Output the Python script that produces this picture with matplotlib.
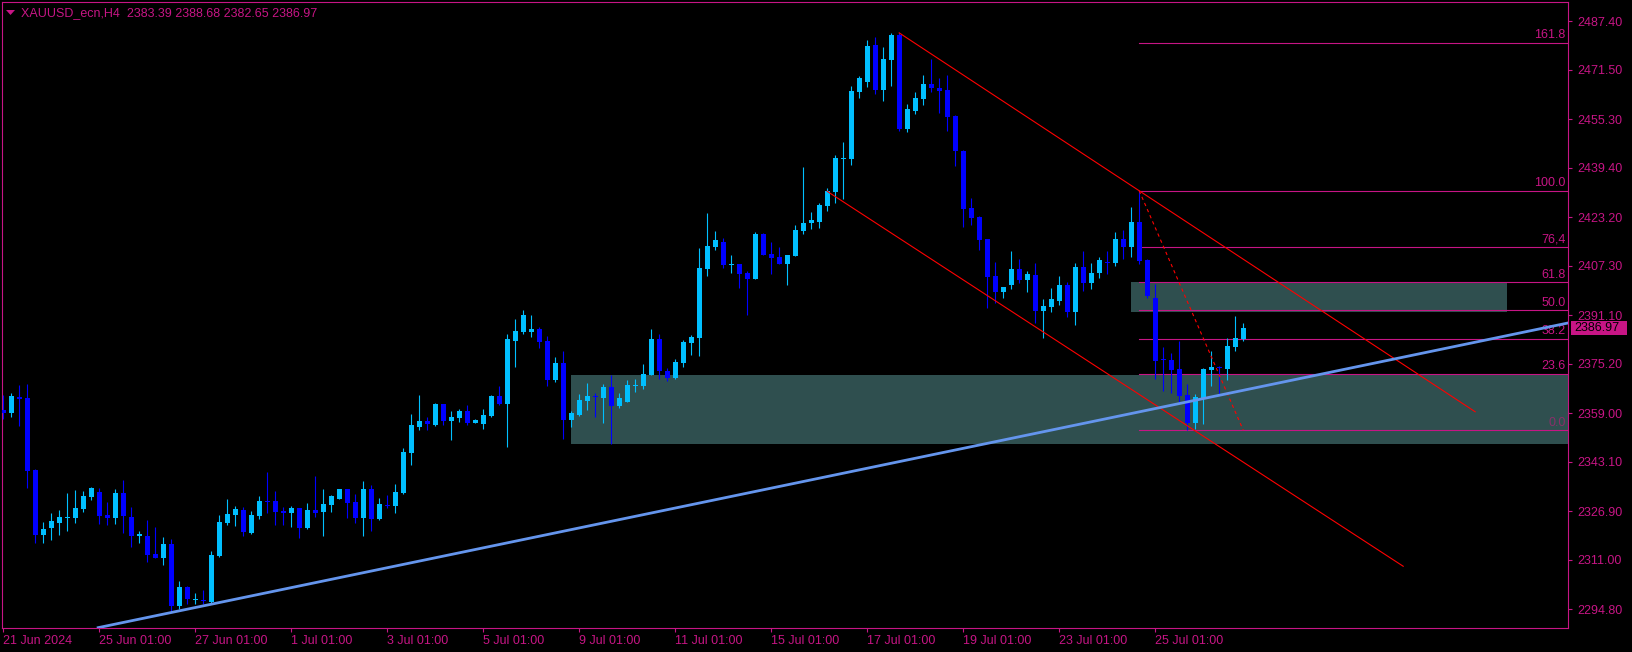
import matplotlib
matplotlib.use("Agg")
import matplotlib.pyplot as plt
from matplotlib.patches import Rectangle, Polygon
from matplotlib.transforms import blended_transform_factory

plt.rcParams['font.family'] = ['Liberation Sans', 'DejaVu Sans']
plt.rcParams['font.size'] = 9

# XAUUSD H4 candles (bar 0 = 21 Jun 2024)
opens = [2360.1, 2359.2, 2364.2, 2364.0, 2340.4, 2319.1, 2321.5, 2323.2, 2324.8, 2324.8,
         2327.7, 2331.7, 2333.2, 2325.7, 2324.8, 2332.9, 2325.0, 2318.9, 2318.8, 2312.9,
         2311.7, 2316.2, 2296.0, 2302.1, 2297.7, 2297.9, 2297.1, 2312.3, 2323.2, 2325.7,
         2327.3, 2319.9, 2325.5, 2330.2, 2330.2, 2327.1, 2326.5, 2327.9, 2321.5, 2327.3,
         2326.8, 2329.0, 2331.0, 2334.1, 2329.9, 2324.8, 2334.1, 2324.5, 2328.9, 2328.8,
         2332.9, 2346.0, 2354.6, 2356.5, 2355.2, 2362.1, 2356.6, 2357.6, 2359.8, 2355.9,
         2355.6, 2358.2, 2364.7, 2362.2, 2382.8, 2385.6, 2385.7, 2386.6, 2382.7, 2370.0,
         2375.5, 2356.9, 2358.4, 2363.0, 2364.6, 2364.1, 2367.6, 2361.5, 2362.8, 2368.1,
         2368.1, 2371.5, 2383.3, 2372.9, 2370.7, 2375.6, 2382.0, 2383.8, 2406.4, 2413.4,
         2415.1, 2407.7, 2407.9, 2404.9, 2403.0, 2417.7, 2411.2, 2410.2, 2407.9, 2410.5,
         2418.7, 2421.3, 2421.7, 2426.9, 2431.5, 2442.4, 2442.3, 2464.2, 2467.5, 2479.6,
         2464.9, 2474.7, 2483.0, 2452.1, 2458.0, 2462.0, 2466.9, 2465.6, 2464.9, 2456.4,
         2444.9, 2426.1, 2423.2, 2416.1, 2403.9, 2398.6, 2401.0, 2406.2, 2402.7, 2404.2,
         2392.5, 2393.8, 2395.8, 2401.0, 2392.3, 2406.9, 2401.8, 2404.9, 2408.5, 2408.1,
         2416.0, 2413.4, 2421.7, 2409.2, 2396.7, 2376.6, 2376.5, 2373.4, 2365.0, 2355.9,
         2363.9, 2373.2, 2374.1, 2373.5, 2380.8, 2383.39]
highs = [2365.0, 2365.5, 2368.3, 2368.6, 2340.6, 2323.4, 2326.3, 2327.3, 2332.9, 2333.9,
         2333.6, 2334.9, 2334.5, 2330.0, 2334.2, 2337.2, 2328.3, 2320.4, 2324.1, 2321.8,
         2318.5, 2317.8, 2304.1, 2302.3, 2300.0, 2301.1, 2313.9, 2325.7, 2330.9, 2328.6,
         2328.3, 2327.0, 2331.9, 2339.8, 2333.6, 2328.4, 2328.6, 2328.0, 2329.5, 2338.5,
         2334.1, 2332.2, 2334.2, 2334.2, 2332.6, 2336.8, 2335.5, 2331.2, 2332.2, 2335.9,
         2347.6, 2358.8, 2365.0, 2357.8, 2362.4, 2362.2, 2359.8, 2360.4, 2361.7, 2357.1,
         2360.4, 2365.0, 2368.0, 2385.0, 2389.9, 2392.8, 2391.2, 2387.3, 2384.3, 2377.4,
         2379.4, 2359.8, 2365.3, 2368.8, 2365.5, 2368.6, 2371.5, 2365.5, 2369.9, 2370.1,
         2375.2, 2386.6, 2385.0, 2374.0, 2376.7, 2383.0, 2384.6, 2413.0, 2424.5, 2418.7,
         2416.4, 2410.8, 2408.0, 2405.7, 2418.3, 2418.0, 2415.0, 2413.6, 2410.9, 2420.6,
         2439.7, 2424.9, 2427.8, 2432.7, 2443.5, 2447.9, 2466.1, 2469.4, 2481.3, 2482.3,
         2479.1, 2483.5, 2483.6, 2460.3, 2464.3, 2469.8, 2475.1, 2468.8, 2469.7, 2456.7,
         2445.2, 2429.5, 2423.7, 2416.2, 2408.6, 2400.4, 2412.2, 2409.6, 2405.7, 2408.1,
         2396.5, 2400.1, 2404.0, 2402.1, 2408.2, 2412.2, 2408.2, 2410.1, 2412.2, 2418.3,
         2419.1, 2426.5, 2431.9, 2409.5, 2401.4, 2380.8, 2378.7, 2382.7, 2368.6, 2365.2,
         2373.7, 2379.4, 2374.5, 2383.6, 2390.9, 2388.68]
lows = [2357.0, 2357.9, 2355.0, 2334.6, 2316.6, 2316.6, 2317.5, 2319.1, 2320.4, 2323.1,
        2326.7, 2330.6, 2322.9, 2322.4, 2322.9, 2319.8, 2315.3, 2316.6, 2310.4, 2311.5,
        2309.3, 2294.0, 2294.9, 2296.5, 2296.5, 2296.5, 2296.5, 2312.0, 2322.5, 2322.2,
        2318.9, 2319.6, 2324.4, 2326.5, 2322.5, 2322.4, 2321.9, 2318.3, 2321.2, 2324.9,
        2318.9, 2326.8, 2330.9, 2324.8, 2323.2, 2318.9, 2320.6, 2324.2, 2328.1, 2326.5,
        2332.7, 2342.2, 2353.6, 2353.6, 2355.0, 2355.3, 2350.4, 2356.3, 2355.3, 2355.8,
        2354.0, 2357.9, 2361.8, 2348.1, 2374.3, 2385.1, 2384.1, 2380.5, 2368.1, 2369.4,
        2350.7, 2354.6, 2358.2, 2360.1, 2357.9, 2355.9, 2349.0, 2360.9, 2362.6, 2366.1,
        2367.0, 2371.4, 2370.2, 2369.7, 2370.2, 2374.3, 2378.1, 2377.9, 2404.0, 2412.5,
        2406.7, 2404.9, 2399.9, 2391.2, 2402.9, 2410.8, 2404.6, 2407.8, 2401.0, 2410.4,
        2417.6, 2419.3, 2419.6, 2425.1, 2427.8, 2429.1, 2440.3, 2462.2, 2465.8, 2463.6,
        2461.3, 2466.2, 2451.5, 2451.3, 2457.0, 2460.0, 2464.4, 2457.5, 2451.5, 2440.1,
        2420.0, 2420.7, 2412.6, 2393.6, 2395.2, 2396.9, 2399.7, 2401.8, 2398.7, 2388.5,
        2383.8, 2392.3, 2394.5, 2390.7, 2387.9, 2399.1, 2399.6, 2403.2, 2404.6, 2407.4,
        2409.6, 2410.3, 2407.8, 2396.7, 2370.2, 2366.3, 2365.8, 2362.8, 2353.5, 2353.9,
        2355.5, 2368.1, 2365.3, 2369.9, 2379.4, 2382.65]
closes = [2359.2, 2364.7, 2363.7, 2340.1, 2319.1, 2321.1, 2323.7, 2325.0, 2325.0, 2328.0,
          2331.9, 2334.5, 2325.5, 2324.8, 2332.9, 2325.5, 2318.9, 2319.5, 2312.6, 2311.7,
          2316.2, 2296.0, 2302.1, 2298.1, 2298.0, 2297.5, 2312.6, 2323.4, 2326.0, 2327.7,
          2320.2, 2325.7, 2330.3, 2330.0, 2326.8, 2326.5, 2327.9, 2321.5, 2327.3, 2326.5,
          2329.3, 2331.9, 2334.1, 2329.7, 2324.8, 2334.1, 2324.5, 2329.3, 2328.6, 2333.2,
          2346.3, 2355.2, 2356.5, 2355.6, 2362.1, 2356.6, 2357.8, 2359.8, 2355.9, 2356.8,
          2358.5, 2364.7, 2362.2, 2383.3, 2386.0, 2391.2, 2386.6, 2382.5, 2370.0, 2375.5,
          2356.9, 2359.1, 2363.4, 2364.7, 2364.2, 2367.6, 2361.5, 2364.0, 2368.3, 2368.3,
          2371.9, 2383.3, 2372.9, 2370.7, 2375.9, 2382.4, 2384.0, 2406.5, 2413.8, 2415.8,
          2407.6, 2407.9, 2404.6, 2403.0, 2417.7, 2410.9, 2410.0, 2407.9, 2410.8, 2419.0,
          2421.3, 2422.3, 2427.1, 2431.7, 2442.6, 2442.6, 2464.6, 2468.8, 2479.3, 2464.9,
          2475.1, 2483.0, 2452.1, 2458.7, 2462.3, 2466.9, 2465.7, 2464.6, 2456.1, 2444.9,
          2425.9, 2423.1, 2415.9, 2403.7, 2398.6, 2400.3, 2406.3, 2402.7, 2404.6, 2392.5,
          2394.2, 2396.5, 2401.0, 2392.3, 2406.9, 2401.8, 2404.9, 2409.2, 2408.2, 2416.0,
          2413.4, 2421.7, 2408.9, 2397.5, 2376.1, 2376.3, 2373.2, 2364.7, 2355.9, 2364.2,
          2373.4, 2374.1, 2373.7, 2381.1, 2383.6, 2386.97]

# time axis
date_pos = [0, 12, 24, 36, 48, 60, 72, 84, 96, 108, 120, 132, 144]
date_labels = ['21 Jun 2024', '25 Jun 01:00', '27 Jun 01:00', '1 Jul 01:00', '3 Jul 01:00',
               '5 Jul 01:00', '9 Jul 01:00', '11 Jul 01:00', '15 Jul 01:00', '17 Jul 01:00',
               '19 Jul 01:00', '23 Jul 01:00', '25 Jul 01:00']
price_ticks = [2487.40, 2471.50, 2455.30, 2439.40, 2423.20, 2407.30, 2391.10,
               2375.20, 2359.00, 2343.10, 2326.90, 2311.00, 2294.80]

# fibo retracement
fib_start = 142
fib_high = 2431.9
fib_low = 2353.5
fib_levels = [0.0, 23.6, 38.2, 50.0, 61.8, 76.4, 100.0, 161.8]
fib_texts = ['0.0', '23.6', '38.2', '50.0', '61.8', '76,4', '100.0', '161.8']

# zones (x0, x1, low, high)
zone1 = [71, 200, 2348.95, 2371.55]
zone2 = [141, 188, 2392.3, 2401.9]

# lines
up_channel_x = [112, 184]
up_channel_y = [2483.6, 2359.5]
low_channel_x = [103, 175]
low_channel_y = [2431.7, 2308.9]
fib_line_x = [142, 155]
fib_line_y = [2431.9, 2353.5]
trend_x = [11.7, 196]
trend_y = [2288.7, 2388.8]

last_price = 2386.97

W, H = 1633, 652
MAG = '#C71585'
BULL = '#00BFFF'
BEAR = '#0000FF'

fig = plt.figure(figsize=(W / 100, H / 100), dpi=100, facecolor='black')
ax = fig.add_axes([2.5 / W, 1 - 628 / H, (1568 - 2.5) / W, (628 - 2.3) / H])
ax.set_facecolor('black')
ax.set_xlim(-0.09, 195.6)
ax.set_ylim(2288.68, 2493.62)

for s in ax.spines.values():
    s.set_color(MAG)
    s.set_linewidth(0.8)

# zones
for z in (zone1, zone2):
    ax.add_patch(Rectangle((z[0], z[2]), z[1] - z[0], z[3] - z[2],
                           facecolor='#2F4F4F', edgecolor='none', zorder=1))

# fibo levels
bt = blended_transform_factory(ax.transAxes, ax.transData)
for lvl, txt in zip(fib_levels, fib_texts):
    p = fib_low + (fib_high - fib_low) * lvl / 100
    ax.plot([fib_start, 200], [p, p], color=MAG, lw=0.8, zorder=1.5)
    c = '#8a2f6a' if lvl == 0 else MAG
    ax.text(0.9985, p + 0.45, txt, transform=bt, ha='right', va='bottom',
            color=c, fontsize=9, zorder=1.6)

# candles
for i in range(len(opens)):
    o, h, l, c = opens[i], highs[i], lows[i], closes[i]
    col = BULL if c >= o else BEAR
    ax.vlines(i, l, h, color=col, lw=0.8, zorder=3)
    body = max(abs(c - o), 0.33)
    ax.bar(i, body, bottom=min(o, c), width=0.625, color=col, lw=0, zorder=3.1)

# channel + fibo trend
ax.plot(up_channel_x, up_channel_y, color='red', lw=0.8, zorder=4)
ax.plot(low_channel_x, low_channel_y, color='red', lw=0.8, zorder=4)
ax.plot(fib_line_x, fib_line_y, color='red', lw=0.8, ls=(0, (3, 3)), zorder=4)

# rising trend line
ax.plot(trend_x, trend_y, color='#6495ED', lw=2.0, zorder=5, solid_capstyle='butt')

# axes ticks
ax.yaxis.tick_right()
ax.set_yticks(price_ticks)
ax.set_yticklabels(['%.2f' % v for v in price_ticks])
ax.set_xticks(date_pos)
ax.set_xticklabels(date_labels)
ax.tick_params(axis='y', colors=MAG, length=3, width=0.8, pad=3.5, labelsize=9)
ax.tick_params(axis='x', colors=MAG, length=3, width=0.8, pad=2, labelsize=9)
for lbl in ax.get_xticklabels():
    lbl.set_ha('left')

# current price tag
ft = blended_transform_factory(fig.transFigure, ax.transData)
ax.add_patch(Rectangle((1571 / W, last_price - 2.3), 56 / W, 4.6, transform=ft,
                       facecolor=MAG, edgecolor='none', clip_on=False, zorder=6))
ax.text(1574.5 / W, last_price, '%.2f' % last_price, transform=ft, ha='left', va='center',
        color='black', fontsize=9, clip_on=False, zorder=7)

# header
fig.patches.append(Polygon([[6 / W, 1 - 10 / H], [15 / W, 1 - 10 / H], [10.5 / W, 1 - 15 / H]],
                           closed=True, transform=fig.transFigure, facecolor=MAG, edgecolor='none'))
fig.text(20.7 / W, 1 - 12.7 / H, 'XAUUSD_ecn,H4  %.2f %.2f %.2f %.2f' % (
    opens[-1], highs[-1], lows[-1], closes[-1]), color=MAG, fontsize=9, va='center', ha='left')

fig.savefig('out.png', dpi=100, facecolor='black')
